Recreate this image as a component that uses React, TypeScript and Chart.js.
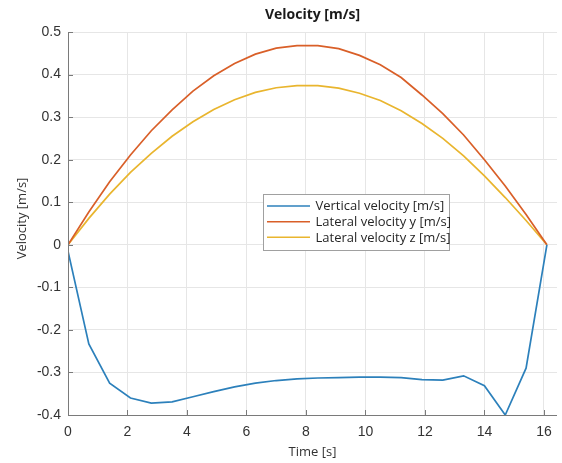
import React, { useEffect, useRef } from "react";
import { Chart, registerables } from "chart.js";

Chart.register(...registerables);

const timeValues = [
  0, 0.7, 1.4, 2.1, 2.8, 3.5, 4.2, 4.9, 5.6, 6.3, 7.0, 7.7, 8.4, 9.1, 9.8, 10.5,
  11.2, 11.9, 12.6, 13.3, 14.0, 14.7, 15.4, 16.1,
];
const verticalVelocity = [
  -0.015, -0.233, -0.325, -0.36, -0.372, -0.369, -0.357, -0.345, -0.334, -0.325,
  -0.319, -0.315, -0.313, -0.312, -0.311, -0.311, -0.312, -0.317, -0.318, -0.308,
  -0.331, -0.4, -0.29, 0,
];
const lateralVelocityY = [
  0, 0.077, 0.148, 0.211, 0.268, 0.317, 0.361, 0.397, 0.426, 0.448, 0.462, 0.468,
  0.468, 0.461, 0.445, 0.423, 0.393, 0.352, 0.308, 0.258, 0.2, 0.138, 0.071, 0,
];
const lateralVelocityZ = [
  0, 0.062, 0.119, 0.17, 0.215, 0.255, 0.289, 0.318, 0.341, 0.358, 0.369, 0.374,
  0.374, 0.368, 0.356, 0.339, 0.315, 0.285, 0.25, 0.209, 0.162, 0.111, 0.057, 0,
];
const seriesLabels = [
  "Vertical velocity [m/s]",
  "Lateral velocity y [m/s]",
  "Lateral velocity z [m/s]",
];
const seriesColors = ["#2c80bb", "#d95f28", "#e9b52e"];
const xTickValues = [0, 2, 4, 6, 8, 10, 12, 14, 16];
const titleText = "Velocity [m/s]";
const xAxisTitle = "Time [s]";
const yAxisTitle = "Velocity [m/s]";

const UI_FONT = "'Open Sans', 'Noto Sans', sans-serif";
const TICK_FONT = "'Liberation Sans', Arial, sans-serif";

const decorPlugin = {
  id: "decor",
  afterDraw(chart: any) {
    const { ctx, chartArea } = chart;
    const { left, right, top, bottom } = chartArea;
    const xs = chart.scales.x;
    const ys = chart.scales.y;
    ctx.save();
    // axis lines
    ctx.strokeStyle = "#7a7a7a";
    ctx.lineWidth = 1;
    ctx.beginPath();
    ctx.moveTo(Math.round(left) + 0.5, top);
    ctx.lineTo(Math.round(left) + 0.5, Math.round(bottom) + 0.5);
    ctx.lineTo(right, Math.round(bottom) + 0.5);
    ctx.stroke();
    // inward ticks
    ctx.beginPath();
    xTickValues.forEach((v) => {
      const px = Math.round(xs.getPixelForValue(v)) + 0.5;
      ctx.moveTo(px, bottom);
      ctx.lineTo(px, bottom - 5);
    });
    ys.ticks.forEach((t: any) => {
      const py = Math.round(ys.getPixelForValue(t.value)) + 0.5;
      ctx.moveTo(left, py);
      ctx.lineTo(left + 5, py);
    });
    ctx.stroke();

    // title
    ctx.fillStyle = "#1a1a1a";
    ctx.font = `bold 14px ${UI_FONT}`;
    ctx.textAlign = "center";
    ctx.textBaseline = "middle";
    ctx.fillText(titleText, (left + right) / 2, 15);

    // axis titles
    ctx.fillStyle = "#333333";
    ctx.font = `13px ${UI_FONT}`;
    ctx.fillText(xAxisTitle, (left + right) / 2, 452);
    ctx.save();
    ctx.translate(22, (top + bottom) / 2 - 5);
    ctx.rotate(-Math.PI / 2);
    ctx.fillText(yAxisTitle, 0, 0);
    ctx.restore();

    // legend
    const bx = 263.5, by = 194.5, bw = 186, bh = 56;
    ctx.fillStyle = "#ffffff";
    ctx.fillRect(bx, by, bw, bh);
    ctx.strokeStyle = "#a0a0a0";
    ctx.lineWidth = 1;
    ctx.strokeRect(bx, by, bw, bh);
    const rows = [206, 221.7, 237.3];
    ctx.font = `13px ${UI_FONT}`;
    ctx.textAlign = "left";
    ctx.textBaseline = "middle";
    seriesLabels.forEach((lab, i) => {
      ctx.strokeStyle = seriesColors[i];
      ctx.lineWidth = 1.6;
      ctx.beginPath();
      ctx.moveTo(267, rows[i]);
      ctx.lineTo(310, rows[i]);
      ctx.stroke();
      ctx.fillStyle = "#262626";
      ctx.fillText(lab, 315.5, rows[i] + 0.5);
    });
    ctx.restore();
  },
};

export default function App() {
  const canvasRef = useRef<HTMLCanvasElement | null>(null);

  useEffect(() => {
    document.body.style.margin = "0";
    const canvas = canvasRef.current;
    if (!canvas) return;
    const makeData = (vals: number[]) => timeValues.map((t, i) => ({ x: t, y: vals[i] }));
    const chart = new Chart(canvas, {
      type: "line",
      data: {
        datasets: [verticalVelocity, lateralVelocityY, lateralVelocityZ].map((vals, i) => ({
          label: seriesLabels[i],
          data: makeData(vals),
          borderColor: seriesColors[i],
          backgroundColor: seriesColors[i],
          borderWidth: 1.7,
          pointRadius: 0,
          tension: 0,
          fill: false,
        })),
      },
      options: {
        animation: false,
        responsive: false,
        maintainAspectRatio: false,
        layout: { padding: { top: 32, right: 5, left: 0, bottom: 0 } },
        plugins: {
          legend: { display: false },
          title: { display: false },
          tooltip: { enabled: false },
        },
        scales: {
          x: {
            type: "linear",
            min: 0,
            max: 16.44,
            afterBuildTicks: (scale: any) => {
              scale.ticks = xTickValues.map((v) => ({ value: v }));
            },
            afterFit: (scale: any) => {
              scale.height = 48;
            },
            grid: { color: "#e6e6e6", drawTicks: false, lineWidth: 1 },
            border: { display: false },
            ticks: {
              padding: 9,
              color: "#333333",
              font: { family: TICK_FONT, size: 14 },
              maxRotation: 0,
              autoSkip: false,
              callback: (v: any) => String(v),
            },
          },
          y: {
            type: "linear",
            min: -0.4,
            max: 0.5,
            afterFit: (scale: any) => {
              scale.width = 68;
            },
            grid: { color: "#e6e6e6", drawTicks: false, lineWidth: 1 },
            border: { display: false },
            ticks: {
              stepSize: 0.1,
              padding: 7,
              color: "#333333",
              font: { family: TICK_FONT, size: 14 },
              callback: (v: any) => String(Number(Number(v).toFixed(1))),
            },
          },
        },
      },
      plugins: [decorPlugin],
    });
    return () => chart.destroy();
  }, []);

  return (
    <div style={{ width: 562, height: 463, background: "#ffffff" }}>
      <canvas ref={canvasRef} width={562} height={463} style={{ display: "block" }} />
    </div>
  );
}
